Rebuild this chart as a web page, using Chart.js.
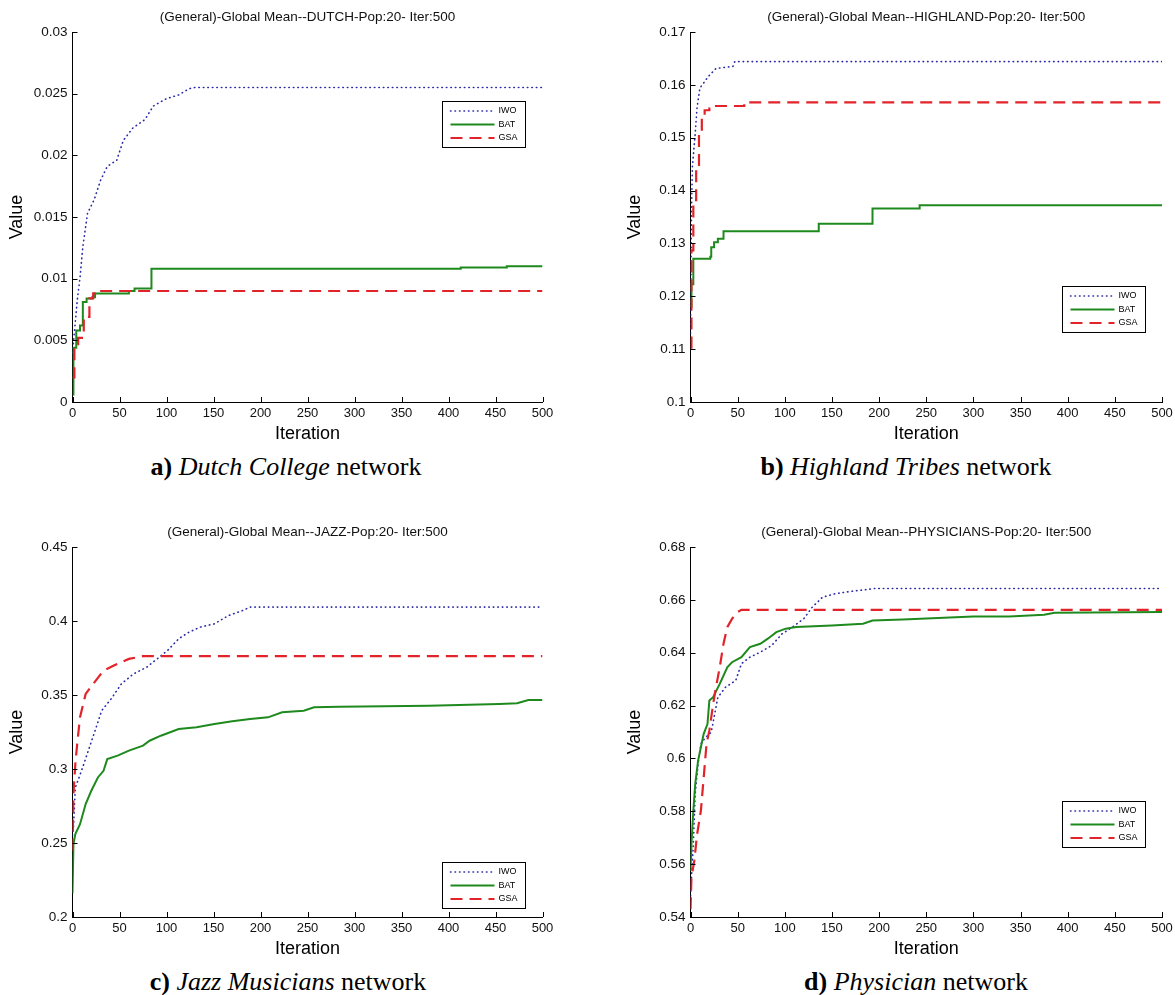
<!DOCTYPE html>
<html>
<head>
<meta charset="utf-8">
<title>Global Mean convergence</title>
<script src="https://cdn.jsdelivr.net/npm/chart.js@4.4.1/dist/chart.umd.min.js"></script>
<style>
  body { margin: 0; background: #fff; width: 1175px; height: 995px; position: relative; overflow: hidden; }
  canvas { position: absolute; }
  .cap { position: absolute; width: 400px; text-align: center; color: #000;
         font-family: 'Liberation Serif', 'Times New Roman', serif; font-size: 26px; line-height: 30px; }
</style>
</head>
<body>
<canvas id="chartA" width="587" height="450" style="left:0;top:0"></canvas>
<canvas id="chartB" width="556" height="450" style="left:618px;top:0"></canvas>
<canvas id="chartC" width="587" height="450" style="left:0;top:515px"></canvas>
<canvas id="chartD" width="556" height="450" style="left:618px;top:515px"></canvas>

<div class="cap" style="left:86px;top:452px"><b>a)</b> <i>Dutch College</i> network</div>
<div class="cap" style="left:706px;top:452px"><b>b)</b> <i>Highland Tribes</i> network</div>
<div class="cap" style="left:88px;top:967px"><b>c)</b> <i>Jazz Musicians</i> network</div>
<div class="cap" style="left:716px;top:967px"><b>d)</b> <i>Physician</i> network</div>

<script>
// tick labels
const iterTicks = [0, 50, 100, 150, 200, 250, 300, 350, 400, 450, 500];
const dutchTicks = [0, 0.005, 0.01, 0.015, 0.02, 0.025, 0.03];
const highlandTicks = [0.1, 0.11, 0.12, 0.13, 0.14, 0.15, 0.16, 0.17];
const jazzTicks = [0.2, 0.25, 0.3, 0.35, 0.4, 0.45];
const physicianTicks = [0.54, 0.56, 0.58, 0.6, 0.62, 0.64, 0.66, 0.68];

// a) Dutch College
const dutchIwoIter = [0, 1, 5, 8, 11, 16, 23, 30, 37, 47, 54, 64, 77, 86, 100, 113, 124, 130, 500];
const dutchIwo = [0.0040, 0.0048, 0.0082, 0.0101, 0.0126, 0.0153, 0.0164, 0.0180, 0.0191, 0.0196, 0.0212,
                  0.0222, 0.0229, 0.0240, 0.0246, 0.0249, 0.0254, 0.0255, 0.0255];
const dutchBatIter = [0, 1, 4, 8, 11, 15, 21, 24, 60, 66, 84, 413, 462, 500];
const dutchBat = [0.0006, 0.0044, 0.0058, 0.0062, 0.0081, 0.0084, 0.0085, 0.0088, 0.0090, 0.0092, 0.0108,
                  0.0109, 0.0110, 0.0110];
const dutchGsaIter = [0, 2, 6, 10, 12, 16, 18, 22, 26, 500];
const dutchGsa = [0.0020, 0.0047, 0.0052, 0.0056, 0.0067, 0.0069, 0.0084, 0.0088, 0.0090, 0.0090];

// b) Highland Tribes
const highlandIwoIter = [0, 1, 2, 5, 7, 10, 19, 27, 45, 47, 500];
const highlandIwo = [0.113, 0.1356, 0.1445, 0.1508, 0.1558, 0.1594, 0.1616, 0.1631, 0.1635, 0.1644, 0.1644];
const highlandBatIter = [0, 1, 3, 21, 22, 25, 29, 35, 136, 193, 243, 500];
const highlandBat = [0.118, 0.1223, 0.1271, 0.1275, 0.1293, 0.1302, 0.1309, 0.1323, 0.1337, 0.1366, 0.1372, 0.1372];
const highlandGsaIter = [0, 1, 3, 6, 9, 12, 15, 20, 57, 500];
const highlandGsa = [0.1103, 0.1287, 0.1382, 0.1445, 0.1508, 0.1537, 0.1552, 0.1560, 0.1567, 0.1567];

// c) Jazz Musicians
const jazzIwoIter = [0, 1, 3, 7, 12, 18, 24, 31, 41, 52, 65, 79, 90, 101, 113, 124, 136, 151, 166, 181, 189, 500];
const jazzIwo = [0.255, 0.2605, 0.2875, 0.2943, 0.3033, 0.3146, 0.3259, 0.3394, 0.3473, 0.3575, 0.3643,
                 0.3688, 0.3744, 0.3800, 0.3880, 0.3925, 0.3959, 0.3981, 0.4037, 0.4071, 0.4094, 0.4094];
const jazzBatIter = [0, 1, 3, 8, 14, 20, 27, 33, 37, 48, 60, 75, 82, 94, 113, 132, 151, 170, 189, 208, 223,
                     246, 257, 284, 379, 454, 473, 485, 500];
const jazzBat = [0.216, 0.249, 0.256, 0.2627, 0.2763, 0.2853, 0.2943, 0.2988, 0.3067, 0.3090, 0.3124, 0.3158,
                 0.3191, 0.3225, 0.3270, 0.3282, 0.3304, 0.3322, 0.3338, 0.3349, 0.3383, 0.3394, 0.3417,
                 0.3421, 0.3428, 0.3439, 0.3444, 0.3466, 0.3466];
const jazzGsaIter = [0, 1, 3, 5, 8, 14, 22, 33, 44, 60, 75, 500];
const jazzGsa = [0.245, 0.283, 0.3033, 0.3169, 0.3350, 0.3507, 0.3575, 0.3665, 0.3699, 0.3744, 0.3762, 0.3762];

// d) Physician
const physicianIwoIter = [0, 1, 3, 5, 8, 11, 16, 22, 25, 29, 37, 48, 54, 63, 74, 86, 97, 108, 120, 129, 140,
                          153, 172, 187, 195, 500];
const physicianIwo = [0.548, 0.5549, 0.5675, 0.5865, 0.5979, 0.6055, 0.6080, 0.6099, 0.6156, 0.6231, 0.6269,
                      0.6295, 0.6358, 0.6383, 0.6402, 0.6427, 0.6471, 0.6497, 0.6528, 0.6572, 0.6610, 0.6623,
                      0.6633, 0.6639, 0.6643, 0.6643];
const physicianBatIter = [0, 1, 3, 5, 8, 11, 14, 18, 20, 24, 31, 39, 44, 54, 63, 74, 82, 91, 101, 112, 131, 150,
                          183, 193, 225, 300, 338, 375, 386, 500];
const physicianBat = [0.5574, 0.5675, 0.5802, 0.5903, 0.5991, 0.6042, 0.6093, 0.6130, 0.6219, 0.6232, 0.6282,
                      0.6345, 0.6364, 0.6383, 0.6421, 0.6434, 0.6453, 0.6478, 0.6491, 0.6497, 0.6500, 0.6503,
                      0.6510, 0.6522, 0.6526, 0.6537, 0.6537, 0.6544, 0.6551, 0.6554];
const physicianGsaIter = [0, 1, 4, 7, 11, 14, 17, 20, 24, 27, 31, 35, 39, 44, 50, 54, 500];
const physicianGsa = [0.5429, 0.5549, 0.5612, 0.5713, 0.5802, 0.5928, 0.6055, 0.6105, 0.6206, 0.6269, 0.6345,
                      0.6434, 0.6497, 0.6528, 0.6554, 0.6562, 0.6562];

const lineStyles = {
    IWO: { borderColor: '#2a2aa8', borderWidth: 1.6, borderDash: [0.5, 4], borderCapStyle: 'round', order: 3 },
    BAT: { borderColor: '#1e8a1e', borderWidth: 2, borderDash: [], order: 2 },
    GSA: { borderColor: '#e2232a', borderWidth: 2.2, borderDash: [12, 7], order: 1 },
};

// 'before' keeps the previous value until the next sample, then jumps
const panels = [
    { id: 'chartA', title: '(General)-Global Mean--DUTCH-Pop:20- Iter:500', yTicks: dutchTicks, padRight: 44.5,
      legendX: 0.786, legendY: 0.186,
      series: [['IWO', dutchIwoIter, dutchIwo, false], ['BAT', dutchBatIter, dutchBat, 'before'],
               ['GSA', dutchGsaIter, dutchGsa, 'before']] },
    { id: 'chartB', title: '(General)-Global Mean--HIGHLAND-Pop:20- Iter:500', yTicks: highlandTicks, padRight: 12,
      legendX: 0.787, legendY: 0.686,
      series: [['IWO', highlandIwoIter, highlandIwo, false], ['BAT', highlandBatIter, highlandBat, 'before'],
               ['GSA', highlandGsaIter, highlandGsa, 'before']] },
    { id: 'chartC', title: '(General)-Global Mean--JAZZ-Pop:20- Iter:500', yTicks: jazzTicks, padRight: 44.5,
      legendX: 0.786, legendY: 0.851,
      series: [['IWO', jazzIwoIter, jazzIwo, false], ['BAT', jazzBatIter, jazzBat, false],
               ['GSA', jazzGsaIter, jazzGsa, false]] },
    { id: 'chartD', title: '(General)-Global Mean--PHYSICIANS-Pop:20- Iter:500', yTicks: physicianTicks, padRight: 12,
      legendX: 0.787, legendY: 0.686,
      series: [['IWO', physicianIwoIter, physicianIwo, false], ['BAT', physicianBatIter, physicianBat, false],
               ['GSA', physicianGsaIter, physicianGsa, false]] },
];

// inward MATLAB-like ticks plus a boxed legend inside the axes
const matlabAxes = {
    id: 'matlabAxes',
    afterDraw(chart, args, opts) {
        const ctx = chart.ctx;
        const area = chart.chartArea;
        const xs = chart.scales.x;
        const ys = chart.scales.y;
        ctx.save();
        ctx.strokeStyle = '#000';
        ctx.lineWidth = 1;
        ctx.setLineDash([]);
        ctx.beginPath();
        xs.ticks.forEach((t) => {
            const px = Math.round(xs.getPixelForValue(t.value)) + 0.5;
            ctx.moveTo(px, area.bottom);
            ctx.lineTo(px, area.bottom - 5);
        });
        ys.ticks.forEach((t) => {
            const py = Math.round(ys.getPixelForValue(t.value)) + 0.5;
            ctx.moveTo(area.left, py);
            ctx.lineTo(area.left + 5, py);
        });
        ctx.stroke();

        const bx = Math.round(area.left + opts.legendX * area.width) + 0.5;
        const by = Math.round(area.top + opts.legendY * area.height) + 0.5;
        ctx.fillStyle = '#fff';
        ctx.fillRect(bx, by, 83, 46);
        ctx.strokeRect(bx, by, 83, 46);
        ctx.font = '9px "Liberation Sans", Arial, sans-serif';
        ctx.textBaseline = 'middle';
        chart.data.datasets.forEach((ds, i) => {
            const ly = by + 9.5 + i * 13.5;
            ctx.strokeStyle = ds.borderColor;
            ctx.lineWidth = ds.borderWidth;
            ctx.lineCap = ds.borderCapStyle || 'butt';
            ctx.setLineDash(ds.borderDash);
            ctx.beginPath();
            ctx.moveTo(bx + 8, ly);
            ctx.lineTo(bx + 52, ly);
            ctx.stroke();
            ctx.fillStyle = '#000';
            ctx.fillText(ds.label, bx + 56, ly);
        });
        ctx.restore();
    },
};

Chart.defaults.font.family = '"Liberation Sans", Arial, sans-serif';
Chart.defaults.color = '#111';

panels.forEach((p) => {
    const datasets = p.series.map(([name, iters, vals, stepped]) => Object.assign({
        label: name,
        data: iters.map((it, i) => ({ x: it, y: vals[i] })),
        pointRadius: 0,
        tension: 0,
        stepped: stepped,
        fill: false,
    }, lineStyles[name]));

    new Chart(document.getElementById(p.id), {
        type: 'line',
        data: { datasets },
        plugins: [matlabAxes],
        options: {
            responsive: false,
            animation: false,
            layout: { padding: { left: 2, right: p.padRight, top: 0, bottom: 1.4 } },
            plugins: {
                legend: { display: false },
                tooltip: { enabled: false },
                title: {
                    display: true,
                    text: p.title,
                    fullSize: false,
                    color: '#111',
                    font: { size: 13.5, weight: 'normal' },
                    padding: { top: 9.5, bottom: 6.3 },
                },
                matlabAxes: { legendX: p.legendX, legendY: p.legendY },
            },
            scales: {
                x: {
                    type: 'linear',
                    min: 0,
                    max: 500,
                    grid: { display: false, drawTicks: false },
                    border: { display: true, color: '#000', width: 1 },
                    afterBuildTicks: (s) => { s.ticks = iterTicks.map((v) => ({ value: v })); },
                    afterFit: (s) => { s.height = 46.6; s.paddingLeft = 0; s.paddingRight = 0; },
                    ticks: { font: { size: 13 }, padding: 4, maxRotation: 0, autoSkip: false, color: '#111' },
                    title: { display: true, text: 'Iteration', font: { size: 18 }, color: '#000' },
                },
                y: {
                    min: p.yTicks[0],
                    max: p.yTicks[p.yTicks.length - 1],
                    grid: { display: false, drawTicks: false },
                    border: { display: true, color: '#000', width: 1 },
                    afterBuildTicks: (s) => { s.ticks = p.yTicks.map((v) => ({ value: v })); },
                    afterFit: (s) => { s.width = 70.5; s.paddingTop = 0; s.paddingBottom = 0; },
                    ticks: {
                        font: { size: 13.5 },
                        padding: 5,
                        autoSkip: false,
                        color: '#111',
                        callback: (v) => String(Number(v.toFixed(4))),
                    },
                    title: { display: true, text: 'Value', font: { size: 18 }, color: '#000' },
                },
            },
        },
    });
});
</script>
</body>
</html>
